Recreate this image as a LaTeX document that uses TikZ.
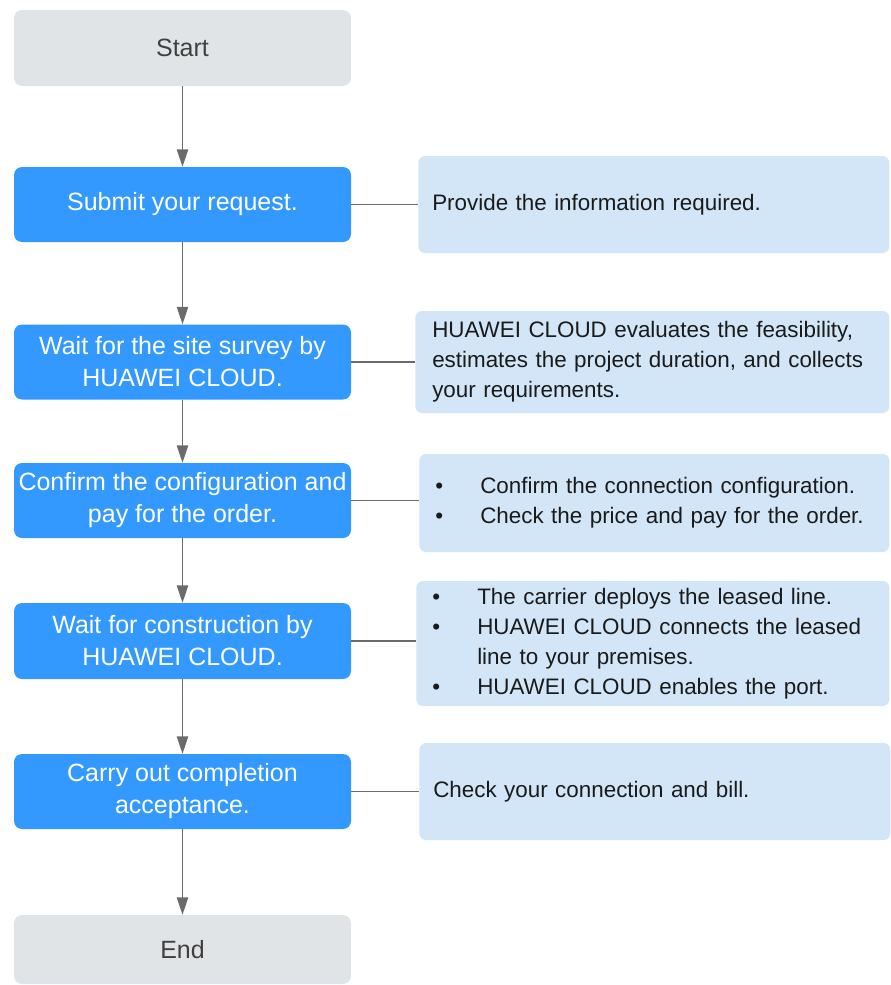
\documentclass[tikz,border=0pt]{standalone}
\usepackage{fontspec}
\setmainfont{Liberation Sans}
\usetikzlibrary{arrows.meta,positioning}

\definecolor{stepblue}{HTML}{3399FF}
\definecolor{notebg}{HTML}{D2E6F8}
\definecolor{termgray}{HTML}{E1E4E6}
\definecolor{linegray}{HTML}{6B6B6B}
\definecolor{termtext}{HTML}{404040}
\definecolor{notetext}{HTML}{1A1A1A}

%bullet with its hanging indent
\newcommand{\bul}{\makebox[33.75pt][l]{\textbullet}}
\newcommand{\hang}{\hspace*{33.75pt}}

\tikzset{
  term/.style={fill=termgray, text=termtext, rounded corners=6pt,
    minimum width=252.75pt, minimum height=57pt, inner sep=0pt,
    font=\fontsize{18.75}{24}\selectfont},
  stepbox/.style={fill=stepblue, text=white, rounded corners=6pt,
    minimum width=252.75pt, minimum height=56.25pt, inner sep=0pt, align=center,
    font=\fontsize{18.75}{24}\selectfont},
  note/.style={fill=notebg, text=notetext, rounded corners=5pt, anchor=west,
    text width=332.25pt, inner xsep=10.5pt, inner ysep=0pt, align=left,
    font=\fontsize{16.8}{22.5}\selectfont},
  flow/.style={draw=linegray, line width=1pt, -{Triangle[width=8.5pt,length=13pt]}},
  link/.style={draw=linegray, line width=1pt}
}

\begin{document}
\begin{tikzpicture}[x=0.75pt, y=-0.75pt]
  \useasboundingbox (0,0) rectangle (890,985);

  %Left column: the steps
  \node[term] (start) at (182.5,48) {Start};
  \node[stepbox] (submit) at (182.5,204.5) {Submit your request.};
  \node[stepbox] (survey) at (182.5,362) {Wait for the site survey by\\HUAWEI CLOUD.};
  \node[stepbox] (confirm) at (182.5,500.5) {Confirm the configuration and\\pay for the order.};
  \node[stepbox, minimum height=57pt] (construct) at (182.5,641) {Wait for construction by\\HUAWEI CLOUD.};
  \node[stepbox] (accept) at (182.5,791.5) {Carry out completion\\acceptance.};
  \node[term, minimum height=51.75pt] (end) at (182.5,949.5) {End};

  %Right column: what happens in each step
  \node[note, minimum height=72.75pt] (n1) at (418,204.5) {Provide the information required.};
  \node[note, minimum height=76.5pt, inner xsep=12.75pt, text width=330pt] (n2) at (415,362)
    {HUAWEI CLOUD evaluates the feasibility,\\estimates the project duration, and collects\\your requirements.};
  \node[note, minimum height=73.5pt, inner xsep=12pt, text width=328.5pt] (n3) at (419,503)
    {\bul Confirm the connection configuration.\\\bul Check the price and pay for the order.};
  \node[note, minimum height=93.75pt, inner xsep=12pt, text width=330.75pt] (n4) at (416,643.5)
    {\bul The carrier deploys the leased line.\\\bul HUAWEI CLOUD connects the leased\\\hang line to your premises.\\\bul HUAWEI CLOUD enables the port.};
  \node[note, minimum height=72.75pt] (n5) at (419,791.5) {Check your connection and bill.};

  %Arrows down the steps
  \draw[flow] (start) -- (submit);
  \draw[flow] (submit) -- (survey);
  \draw[flow] (survey) -- (confirm);
  \draw[flow] (confirm) -- (construct);
  \draw[flow] (construct) -- (accept);
  \draw[flow] (accept) -- (end);

  %Links to the notes
  \draw[link] (submit.east) -- (submit.east -| n1.west);
  \draw[link] (survey.east) -- (survey.east -| n2.west);
  \draw[link] (confirm.east) -- (confirm.east -| n3.west);
  \draw[link] (construct.east) -- (construct.east -| n4.west);
  \draw[link] (accept.east) -- (accept.east -| n5.west);
\end{tikzpicture}
\end{document}
